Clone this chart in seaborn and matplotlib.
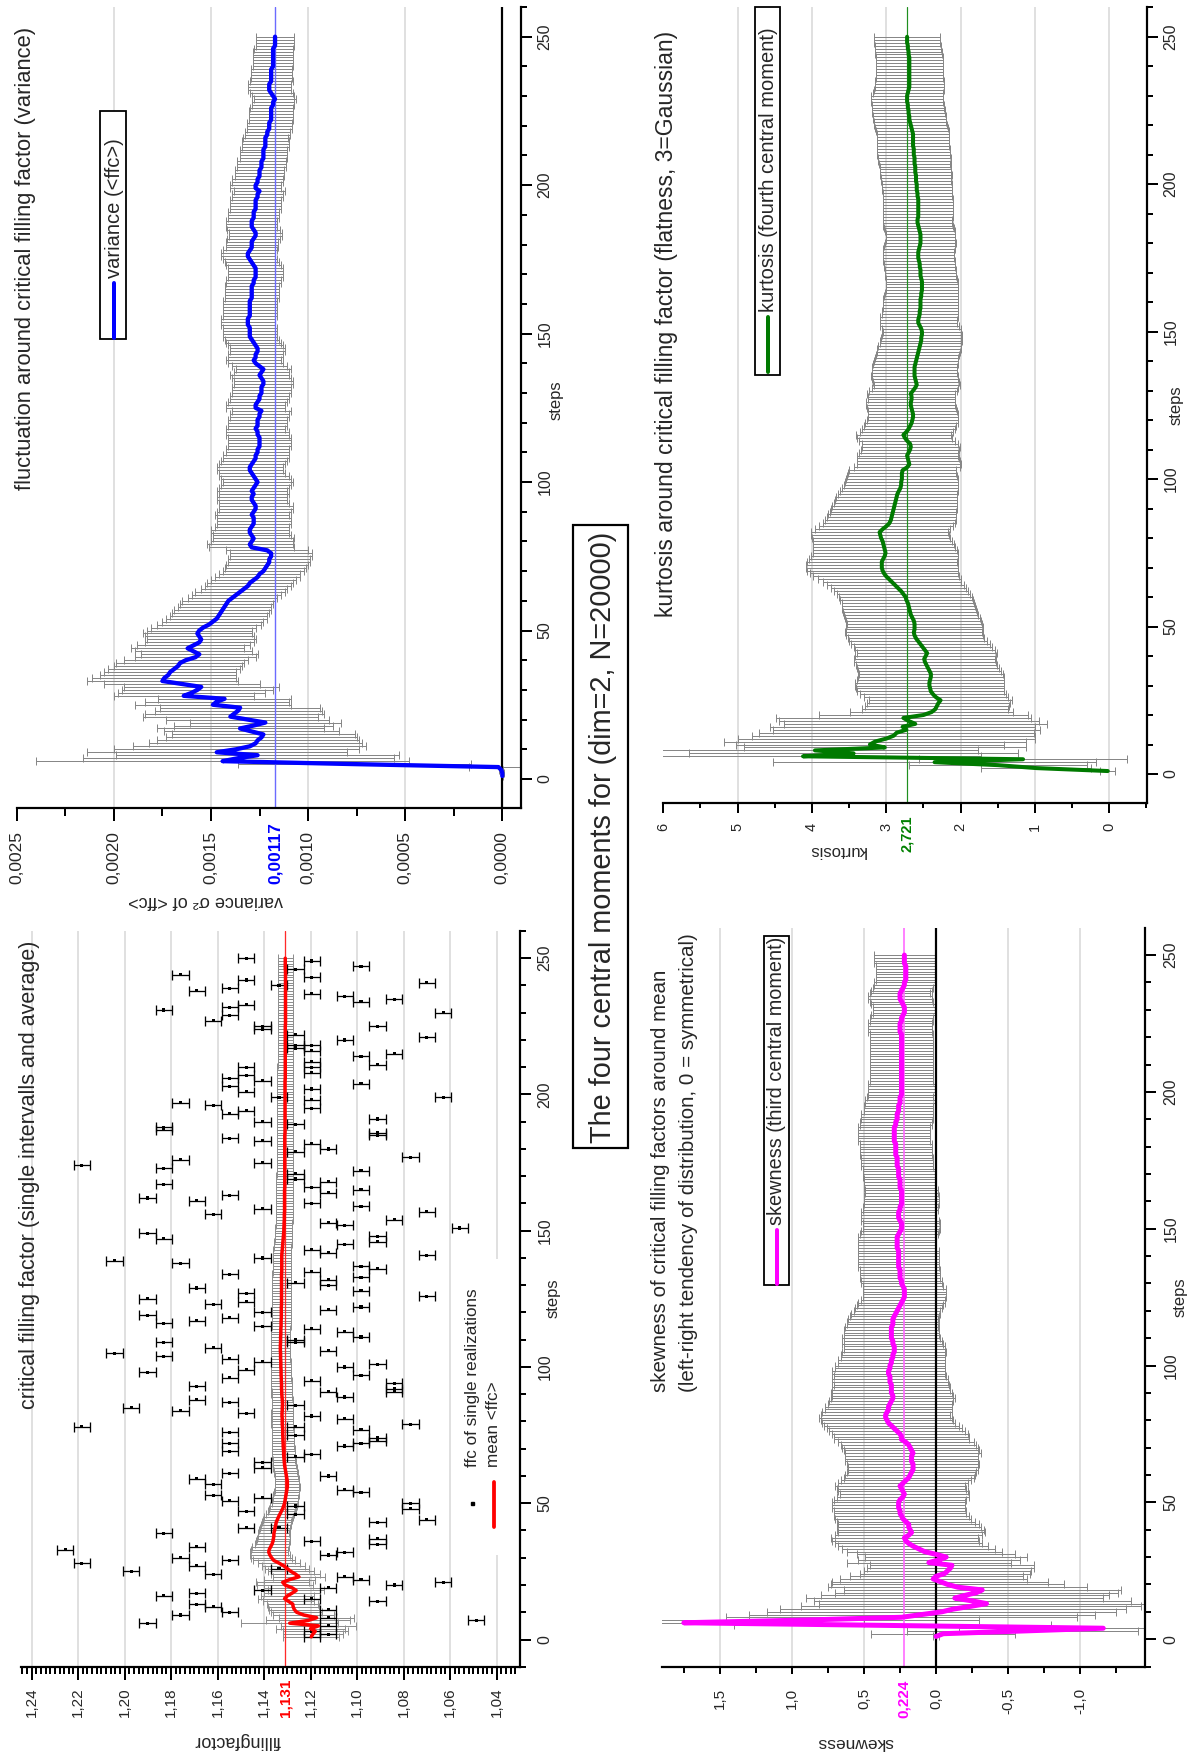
import numpy as np
import pandas as pd
import matplotlib
matplotlib.use("Agg")
import matplotlib.pyplot as plt
import matplotlib.transforms as mtransforms
from matplotlib.lines import Line2D
from matplotlib.patches import Rectangle
from matplotlib.ticker import MultipleLocator
import seaborn as sns

# ---------------------------------------------------------------- data
steps = np.arange(1, 251)

# mean critical filling factor <ffc> and its error, per step
ff_mean = [
    1.1197, 1.1190, 1.1180, 1.1200, 1.1166, 1.1290, 1.1210, 1.1174, 1.1230, 1.1260,
    1.1270, 1.1275, 1.1277, 1.1295, 1.1312, 1.1300, 1.1280, 1.1262, 1.1280, 1.1310,
    1.1320, 1.1290, 1.1250, 1.1265, 1.1285, 1.1300, 1.1315, 1.1335, 1.1358, 1.1368,
    1.1375, 1.1380, 1.1378, 1.1372, 1.1366, 1.1362, 1.1360, 1.1358, 1.1358, 1.1355,
    1.1353, 1.1350, 1.1348, 1.1343, 1.1338, 1.1332, 1.1326, 1.1320, 1.1316, 1.1312,
    1.1310, 1.1308, 1.1306, 1.1304, 1.1302, 1.1300, 1.1300, 1.1300, 1.1302, 1.1304,
    1.1306, 1.1308, 1.1310, 1.1312, 1.1313, 1.1314, 1.1315, 1.1316, 1.1316, 1.1317,
    1.1318, 1.1318, 1.1319, 1.1319, 1.1320, 1.1320, 1.1320, 1.1321, 1.1322, 1.1322,
    1.1322, 1.1323, 1.1323, 1.1322, 1.1322, 1.1321, 1.1321, 1.1322, 1.1323, 1.1324,
    1.1324, 1.1325, 1.1325, 1.1325, 1.1326, 1.1326, 1.1327, 1.1327, 1.1327, 1.1328,
    1.1328, 1.1328, 1.1329, 1.1329, 1.1329, 1.1330, 1.1330, 1.1330, 1.1329, 1.1329,
    1.1329, 1.1328, 1.1328, 1.1328, 1.1327, 1.1327, 1.1327, 1.1326, 1.1326, 1.1326,
    1.1326, 1.1326, 1.1325, 1.1325, 1.1325, 1.1325, 1.1325, 1.1325, 1.1325, 1.1325,
    1.1325, 1.1325, 1.1325, 1.1325, 1.1324, 1.1324, 1.1324, 1.1324, 1.1324, 1.1324,
    1.1324, 1.1323, 1.1322, 1.1321, 1.1320, 1.1319, 1.1318, 1.1317, 1.1316, 1.1315,
    1.1315, 1.1314, 1.1314, 1.1313, 1.1313, 1.1313, 1.1312, 1.1312, 1.1312, 1.1312,
    1.1312, 1.1312, 1.1312, 1.1312, 1.1312, 1.1311, 1.1311, 1.1311, 1.1311, 1.1311,
    1.1311, 1.1311, 1.1311, 1.1311, 1.1311, 1.1311, 1.1311, 1.1311, 1.1311, 1.1311,
    1.1311, 1.1311, 1.1311, 1.1311, 1.1311, 1.1310, 1.1310, 1.1310, 1.1310, 1.1310,
    1.1310, 1.1310, 1.1310, 1.1310, 1.1310, 1.1310, 1.1310, 1.1310, 1.1310, 1.1310,
    1.1310, 1.1310, 1.1310, 1.1310, 1.1310, 1.1309, 1.1309, 1.1309, 1.1309, 1.1309,
    1.1309, 1.1309, 1.1309, 1.1309, 1.1309, 1.1309, 1.1309, 1.1309, 1.1309, 1.1309,
    1.1309, 1.1309, 1.1309, 1.1309, 1.1309, 1.1308, 1.1308, 1.1308, 1.1308, 1.1308,
    1.1308, 1.1308, 1.1308, 1.1308, 1.1308, 1.1308, 1.1308, 1.1308, 1.1308, 1.1308,
    1.1308, 1.1308, 1.1308, 1.1308, 1.1308, 1.1309, 1.1309, 1.1309, 1.1309, 1.1309,
]
ff_err = [
    0.012, 0.013, 0.014, 0.015, 0.016, 0.021, 0.018, 0.016, 0.013, 0.011,
    0.011, 0.011, 0.011, 0.011, 0.0115, 0.0115, 0.012, 0.012, 0.012, 0.012,
    0.0115, 0.011, 0.011, 0.0105, 0.010, 0.0095, 0.0092, 0.009, 0.009, 0.0088,
    0.0085, 0.0082, 0.008, 0.0078, 0.0075, 0.0072, 0.007, 0.0068, 0.0067, 0.0066,
    0.0065, 0.0064, 0.0063, 0.0062, 0.0061, 0.006, 0.0059, 0.0058, 0.0057, 0.0056,
    0.0055, 0.0055, 0.0054, 0.0054, 0.0053, 0.0053, 0.0052, 0.0052, 0.0051, 0.0051,
    0.0050, 0.0050, 0.0050, 0.0050, 0.0050, 0.0049, 0.0049, 0.0049, 0.0049, 0.0049,
    0.0048, 0.0048, 0.0048, 0.0048, 0.0048, 0.0047, 0.0047, 0.0047, 0.0047, 0.0047,
    0.0046, 0.0046, 0.0046, 0.0046, 0.0046, 0.0045, 0.0045, 0.0045, 0.0045, 0.0045,
    0.0044, 0.0044, 0.0044, 0.0044, 0.0044, 0.0043, 0.0043, 0.0043, 0.0043, 0.0043,
    0.0042, 0.0042, 0.0042, 0.0042, 0.0042, 0.0042, 0.0042, 0.0042, 0.0042, 0.0042,
    0.0041, 0.0041, 0.0041, 0.0041, 0.0041, 0.0041, 0.0041, 0.0041, 0.0041, 0.0041,
    0.0040, 0.0040, 0.0040, 0.0040, 0.0040, 0.0040, 0.0040, 0.0040, 0.0040, 0.0040,
    0.0039, 0.0039, 0.0039, 0.0039, 0.0039, 0.0039, 0.0039, 0.0039, 0.0039, 0.0039,
    0.0038, 0.0038, 0.0038, 0.0038, 0.0038, 0.0037, 0.0037, 0.0037, 0.0037, 0.0037,
    0.0036, 0.0036, 0.0036, 0.0036, 0.0036, 0.0036, 0.0036, 0.0036, 0.0036, 0.0036,
    0.0036, 0.0036, 0.0036, 0.0036, 0.0036, 0.0036, 0.0036, 0.0036, 0.0036, 0.0036,
    0.0035, 0.0035, 0.0035, 0.0035, 0.0035, 0.0035, 0.0035, 0.0035, 0.0035, 0.0035,
    0.0035, 0.0035, 0.0035, 0.0035, 0.0035, 0.0035, 0.0035, 0.0035, 0.0035, 0.0035,
    0.0034, 0.0034, 0.0034, 0.0034, 0.0034, 0.0034, 0.0034, 0.0034, 0.0034, 0.0034,
    0.0034, 0.0034, 0.0034, 0.0034, 0.0034, 0.0034, 0.0034, 0.0034, 0.0034, 0.0034,
    0.0033, 0.0033, 0.0033, 0.0033, 0.0033, 0.0033, 0.0033, 0.0033, 0.0033, 0.0033,
    0.0033, 0.0033, 0.0033, 0.0033, 0.0033, 0.0033, 0.0033, 0.0033, 0.0033, 0.0033,
    0.0032, 0.0032, 0.0032, 0.0032, 0.0032, 0.0032, 0.0032, 0.0032, 0.0032, 0.0032,
    0.0032, 0.0032, 0.0032, 0.0032, 0.0032, 0.0032, 0.0032, 0.0032, 0.0032, 0.0032,
]
ff_avg = 1.131

# ffc of single realizations: (step, value), each with a fixed error half-width
ff_single_step = [
    249, 247, 246, 243, 241, 240, 237, 236, 235, 234, 230, 225, 224, 225, 222, 221,
    220, 218, 218, 217, 216, 215, 214, 212, 211, 210, 208, 205, 204, 202, 199, 199,
    198, 195, 191, 190, 189, 186, 185, 183, 182, 180, 179, 177, 175, 172, 171, 169,
    168, 166, 165, 164, 160, 159, 158, 157, 154, 153, 152, 151, 148, 146, 145, 143,
    142, 141, 140, 137, 136, 135, 133, 132, 131, 130, 128, 126, 122, 121, 120, 115,
    114, 113, 111, 110, 109, 106, 102, 101, 100, 97, 95, 94, 92, 91, 91, 89,
    86, 82, 81, 79, 78, 77, 75, 74, 73, 72, 71, 68,
    250, 244, 238, 239, 242, 231, 232, 229, 233, 227, 210, 207, 206, 203, 201, 197,
    196, 193, 194, 188, 187, 184, 174, 176, 173, 167, 162, 161, 163, 156, 149, 147,
    139, 138, 134, 129, 127, 124, 123, 125, 119, 117, 116, 118, 105, 109, 104, 107,
    103, 98, 99, 96, 93, 88, 84, 85, 87, 83, 78, 76, 72, 69,
    61, 57, 53, 51, 47, 41, 39, 34, 30, 29, 27, 24, 25, 33, 28, 16,
    17, 13, 12, 9, 10, 6, 18, 52, 59, 65, 63, 60, 55, 54, 49, 46,
    50, 48, 44, 43, 37, 35, 36, 32, 31, 22, 23, 20, 21, 19, 15, 14,
    11, 8, 5, 2, 3, 1, 7, 41, 26, 67,
]
ff_single_value = [
    1.1195, 1.0983, 1.1265, 1.1195, 1.0700, 1.1336, 1.1195, 1.1053, 1.0841, 1.0983, 1.0629, 1.1407, 1.1407, 1.0912, 1.1265, 1.0700,
    1.1053, 1.1265, 1.1195, 1.1265, 1.1195, 1.0841, 1.0983, 1.1195, 1.0912, 1.1195, 1.1195, 1.1407, 1.0983, 1.1195, 1.1336, 1.0629,
    1.1195, 1.1195, 1.0912, 1.1407, 1.1265, 1.0912, 1.0912, 1.1407, 1.1195, 1.1124, 1.1265, 1.0770, 1.1407, 1.0983, 1.1265, 1.1265,
    1.1124, 1.1195, 1.0983, 1.1124, 1.1195, 1.0983, 1.1407, 1.0700, 1.0841, 1.1124, 1.1053, 1.0558, 1.0912, 1.0912, 1.1053, 1.1195,
    1.1124, 1.0700, 1.1407, 1.0983, 1.0912, 1.1195, 1.0983, 1.1124, 1.1265, 1.1124, 1.0983, 1.0700, 1.0983, 1.1124, 1.1407, 1.1407,
    1.1195, 1.1053, 1.0983, 1.1265, 1.1265, 1.1124, 1.1407, 1.0912, 1.1053, 1.0983, 1.1195, 1.0841, 1.0841, 1.0841, 1.1124, 1.1053,
    1.1265, 1.1195, 1.1053, 1.0770, 1.1265, 1.0983, 1.1265, 1.0912, 1.0912, 1.0983, 1.1053, 1.1195,
    1.1477, 1.1760, 1.1690, 1.1548, 1.1477, 1.1831, 1.1548, 1.1548, 1.1477, 1.1619, 1.1477, 1.1477, 1.1548, 1.1548, 1.1477, 1.1760,
    1.1619, 1.1548, 1.1477, 1.1831, 1.1831, 1.1548, 1.2184, 1.1760, 1.1831, 1.1831, 1.1902, 1.1690, 1.1548, 1.1619, 1.1902, 1.1831,
    1.2043, 1.1760, 1.1548, 1.1690, 1.1477, 1.1477, 1.1619, 1.1902, 1.1902, 1.1690, 1.1831, 1.1548, 1.2043, 1.1831, 1.1831, 1.1619,
    1.1548, 1.1902, 1.1477, 1.1548, 1.1690, 1.1690, 1.1760, 1.1972, 1.1548, 1.1477, 1.2184, 1.1548, 1.1548, 1.1548,
    1.1548, 1.1619, 1.1619, 1.1548, 1.1477, 1.1477, 1.1831, 1.1690, 1.1760, 1.1548, 1.1690, 1.1619, 1.1972, 1.2255, 1.2184, 1.1831,
    1.1690, 1.1690, 1.1619, 1.1760, 1.1548, 1.1902, 1.1407, 1.1407, 1.1690, 1.1407, 1.1407, 1.1124, 1.1053, 1.0983, 1.1265, 1.1265,
    1.0770, 1.0770, 1.0700, 1.0912, 1.0912, 1.0912, 1.1195, 1.1053, 1.1124, 1.0983, 1.1053, 1.0841, 1.0629, 1.1124, 1.1195, 1.0912,
    1.1124, 1.1124, 1.1124, 1.1124, 1.1195, 1.1195, 1.0488, 1.1336, 1.1336, 1.1265,
]
ff_single_err = 0.0035

# variance of <ffc>, in units of 1e-5
var_mean_e5 = [
    0, 0, 0.5, 2, 76, 144, 136, 126, 147, 137,
    130, 127, 126, 124, 123, 129, 135, 128, 122, 131,
    140, 138, 136, 135, 149, 147, 143, 164, 160, 157,
    155, 165, 175, 174, 172, 171, 169, 167, 166, 163,
    158, 156, 159, 162, 159, 156, 155, 156, 157, 156,
    154, 151, 149, 147, 146, 145, 144, 143, 142, 141,
    139, 137, 135, 133, 131, 130, 128, 126, 125, 123,
    122, 121, 120, 120, 119, 119, 121, 129, 130, 129,
    128, 129, 130, 130, 129, 128, 128, 128, 129, 128,
    127, 127, 128, 129, 129, 128, 129, 128, 127, 126,
    127, 128, 129, 130, 130, 129, 128, 127, 127, 126,
    126, 125, 125, 125, 125, 126, 126, 127, 126, 126,
    126, 125, 125, 124, 127, 127, 126, 125, 125, 124,
    124, 124, 123, 123, 124, 125, 124, 123, 125, 127,
    128, 127, 127, 126, 126, 127, 128, 129, 130, 130,
    130, 130, 131, 131, 131, 130, 130, 130, 130, 130,
    130, 129, 129, 129, 129, 129, 128, 128, 127, 127,
    127, 127, 128, 129, 130, 131, 131, 130, 129, 129,
    129, 128, 127, 127, 128, 129, 129, 129, 128, 128,
    128, 127, 127, 127, 127, 126, 126, 125, 127, 127,
    126, 126, 125, 125, 125, 124, 124, 124, 123, 123,
    123, 123, 122, 122, 122, 122, 121, 121, 120, 120,
    120, 119, 119, 119, 119, 119, 118, 118, 117, 118,
    119, 120, 120, 120, 119, 119, 119, 119, 119, 118,
    118, 118, 118, 118, 118, 118, 117, 117, 117, 117,
]
var_err_e5 = [
    0.5, 0.8, 1, 15, 60, 96, 80, 73, 67, 63,
    60, 55, 52, 49, 47, 45, 43, 41, 39, 42,
    45, 46, 43, 41, 40, 37, 34, 36, 38, 39,
    40, 40, 39, 37, 35, 34, 34, 33, 33, 32,
    31, 30, 30, 29, 29, 28, 28, 28, 28, 27,
    27, 27, 26, 26, 25, 25, 25, 24, 24, 24,
    23, 23, 23, 22, 22, 22, 22, 22, 21, 21,
    21, 21, 21, 21, 21, 21, 21, 22, 22, 21,
    21, 20, 20, 20, 19, 19, 19, 19, 19, 19,
    19, 19, 18, 18, 18, 18, 18, 18, 18, 18,
    18, 18, 17, 17, 17, 17, 17, 17, 17, 16,
    16, 16, 16, 16, 16, 16, 16, 15, 15, 15,
    15, 15, 15, 15, 15, 15, 15, 15, 15, 15,
    15, 15, 15, 15, 15, 15, 14, 14, 14, 14,
    14, 14, 14, 14, 14, 14, 14, 14, 14, 14,
    14, 14, 14, 14, 14, 14, 14, 14, 14, 14,
    14, 14, 14, 14, 14, 14, 14, 14, 14, 14,
    14, 14, 14, 14, 14, 14, 14, 14, 13.5, 13.5,
    13.5, 13.5, 13.5, 13.5, 13.5, 13, 13, 13, 13, 13,
    13, 13, 13, 13, 13, 13, 13, 13, 13, 13,
    13, 13, 12.5, 12.5, 12.5, 12.5, 12.5, 12.5, 12, 12,
    12, 12, 12, 12, 12, 11.5, 11.5, 11.5, 11.5, 11.5,
    11.5, 11.5, 11.5, 11.5, 11.5, 11, 11, 11, 11, 11,
    11, 11, 11, 11, 11, 10.5, 10.5, 10.5, 10.5, 10.5,
    10.5, 10.5, 10.5, 10.5, 10.5, 10, 10, 10, 10, 10,
]
var_avg = 0.00117

# skewness (third central moment)
skew_mean = [
    0.00, -0.05, -0.60, -1.16, 0.30, 1.75, 0.90, 0.24, 0.10, -0.04,
    -0.12, -0.24, -0.35, -0.25, -0.13, -0.20, -0.28, -0.32, -0.15, -0.08,
    -0.03, 0.02, 0.00, -0.06, -0.08, -0.10, -0.11, 0.05, -0.02, -0.07,
    0.00, 0.08, 0.12, 0.16, 0.19, 0.21, 0.22, 0.19, 0.17, 0.18,
    0.19, 0.19, 0.21, 0.23, 0.24, 0.25, 0.25, 0.26, 0.26, 0.26,
    0.25, 0.23, 0.22, 0.23, 0.24, 0.25, 0.23, 0.21, 0.19, 0.18,
    0.17, 0.16, 0.16, 0.16, 0.17, 0.17, 0.17, 0.16, 0.17, 0.18,
    0.19, 0.21, 0.24, 0.24, 0.25, 0.27, 0.29, 0.31, 0.33, 0.34,
    0.35, 0.35, 0.34, 0.33, 0.33, 0.32, 0.31, 0.30, 0.30, 0.31,
    0.31, 0.31, 0.31, 0.32, 0.32, 0.32, 0.33, 0.33, 0.32, 0.32,
    0.31, 0.31, 0.30, 0.30, 0.29, 0.29, 0.29, 0.30, 0.30, 0.31,
    0.31, 0.31, 0.31, 0.31, 0.30, 0.30, 0.30, 0.29, 0.28, 0.27,
    0.26, 0.25, 0.24, 0.23, 0.22, 0.22, 0.22, 0.22, 0.23, 0.24,
    0.24, 0.25, 0.25, 0.25, 0.25, 0.26, 0.26, 0.26, 0.26, 0.26,
    0.26, 0.26, 0.27, 0.27, 0.27, 0.27, 0.27, 0.26, 0.25, 0.24,
    0.24, 0.24, 0.25, 0.26, 0.26, 0.26, 0.25, 0.25, 0.24, 0.24,
    0.24, 0.24, 0.24, 0.24, 0.25, 0.25, 0.25, 0.25, 0.26, 0.26,
    0.26, 0.26, 0.27, 0.27, 0.27, 0.27, 0.28, 0.28, 0.28, 0.28,
    0.28, 0.29, 0.29, 0.29, 0.29, 0.29, 0.29, 0.28, 0.28, 0.27,
    0.27, 0.27, 0.26, 0.26, 0.26, 0.25, 0.25, 0.25, 0.24, 0.24,
    0.24, 0.24, 0.24, 0.24, 0.24, 0.24, 0.24, 0.24, 0.24, 0.24,
    0.24, 0.24, 0.24, 0.24, 0.24, 0.24, 0.24, 0.24, 0.24, 0.24,
    0.24, 0.25, 0.25, 0.25, 0.25, 0.24, 0.24, 0.23, 0.22, 0.22,
    0.22, 0.23, 0.24, 0.25, 0.25, 0.25, 0.24, 0.23, 0.22, 0.22,
    0.21, 0.21, 0.21, 0.21, 0.21, 0.21, 0.22, 0.22, 0.22, 0.22,
]
skew_err = [
    0.02, 0.50, 0.80, 1.00, 1.10, 1.25, 1.20, 1.22, 1.20, 1.21,
    1.20, 1.18, 1.16, 1.10, 1.03, 1.00, 0.98, 0.96, 0.90, 0.81,
    0.75, 0.65, 0.60, 0.59, 0.58, 0.58, 0.57, 0.57, 0.56, 0.56,
    0.55, 0.54, 0.53, 0.52, 0.51, 0.51, 0.51, 0.51, 0.51, 0.51,
    0.50, 0.49, 0.48, 0.47, 0.47, 0.46, 0.46, 0.46, 0.46, 0.46,
    0.46, 0.46, 0.45, 0.45, 0.45, 0.45, 0.45, 0.45, 0.45, 0.45,
    0.45, 0.45, 0.45, 0.46, 0.46, 0.46, 0.46, 0.47, 0.47, 0.47,
    0.47, 0.47, 0.47, 0.47, 0.47, 0.47, 0.47, 0.47, 0.46, 0.46,
    0.46, 0.45, 0.45, 0.44, 0.44, 0.43, 0.43, 0.43, 0.42, 0.42,
    0.41, 0.41, 0.40, 0.40, 0.40, 0.39, 0.39, 0.39, 0.38, 0.38,
    0.37, 0.37, 0.36, 0.36, 0.36, 0.35, 0.35, 0.35, 0.34, 0.34,
    0.33, 0.33, 0.33, 0.32, 0.32, 0.32, 0.31, 0.31, 0.31, 0.30,
    0.30, 0.30, 0.30, 0.29, 0.29, 0.29, 0.29, 0.29, 0.28, 0.28,
    0.28, 0.28, 0.28, 0.28, 0.28, 0.28, 0.28, 0.28, 0.28, 0.28,
    0.28, 0.28, 0.27, 0.27, 0.27, 0.27, 0.27, 0.27, 0.27, 0.27,
    0.27, 0.27, 0.27, 0.26, 0.26, 0.26, 0.26, 0.26, 0.26, 0.26,
    0.26, 0.26, 0.25, 0.25, 0.25, 0.25, 0.25, 0.25, 0.25, 0.25,
    0.25, 0.25, 0.25, 0.25, 0.25, 0.25, 0.25, 0.25, 0.25, 0.25,
    0.25, 0.25, 0.25, 0.25, 0.25, 0.25, 0.25, 0.25, 0.25, 0.25,
    0.25, 0.25, 0.24, 0.24, 0.24, 0.24, 0.24, 0.23, 0.23, 0.23,
    0.23, 0.23, 0.23, 0.22, 0.22, 0.22, 0.22, 0.22, 0.22, 0.22,
    0.22, 0.22, 0.22, 0.22, 0.22, 0.22, 0.22, 0.22, 0.22, 0.22,
    0.22, 0.22, 0.22, 0.22, 0.22, 0.22, 0.22, 0.22, 0.22, 0.22,
    0.22, 0.22, 0.22, 0.22, 0.22, 0.21, 0.21, 0.21, 0.21, 0.21,
    0.21, 0.21, 0.21, 0.21, 0.21, 0.21, 0.21, 0.21, 0.21, 0.21,
]
skew_avg = 0.224

# kurtosis (fourth central moment)
kurt_mean = [
    0.02, 0.98, 1.50, 2.35, 1.16, 4.12, 3.44, 3.96, 3.02, 3.22,
    3.15, 3.00, 2.90, 2.86, 2.73, 2.78, 2.61, 2.70, 2.77, 2.50,
    2.39, 2.34, 2.32, 2.30, 2.27, 2.33, 2.37, 2.40, 2.41, 2.42,
    2.42, 2.41, 2.40, 2.40, 2.42, 2.44, 2.46, 2.48, 2.49, 2.47,
    2.45, 2.48, 2.51, 2.54, 2.57, 2.60, 2.62, 2.63, 2.62, 2.62,
    2.62, 2.63, 2.65, 2.67, 2.68, 2.69, 2.70, 2.71, 2.73, 2.74,
    2.77, 2.80, 2.84, 2.88, 2.92, 2.96, 3.00, 3.03, 3.05, 3.06,
    3.06, 3.06, 3.04, 3.02, 3.01, 3.02, 3.03, 3.04, 3.05, 3.07,
    3.08, 3.09, 3.05, 3.00, 2.96, 2.94, 2.93, 2.92, 2.91, 2.90,
    2.89, 2.88, 2.87, 2.86, 2.85, 2.83, 2.81, 2.80, 2.80, 2.79,
    2.79, 2.79, 2.78, 2.72, 2.69, 2.70, 2.71, 2.72, 2.70, 2.68,
    2.67, 2.68, 2.72, 2.75, 2.77, 2.73, 2.70, 2.68, 2.66, 2.65,
    2.64, 2.64, 2.65, 2.66, 2.67, 2.67, 2.66, 2.66, 2.67, 2.64,
    2.61, 2.59, 2.60, 2.61, 2.62, 2.62, 2.62, 2.62, 2.61, 2.60,
    2.59, 2.58, 2.57, 2.56, 2.55, 2.54, 2.53, 2.53, 2.52, 2.52,
    2.53, 2.55, 2.57, 2.57, 2.56, 2.55, 2.55, 2.54, 2.54, 2.54,
    2.54, 2.53, 2.53, 2.52, 2.52, 2.52, 2.52, 2.53, 2.54, 2.54,
    2.54, 2.55, 2.55, 2.56, 2.57, 2.57, 2.57, 2.56, 2.55, 2.54,
    2.54, 2.54, 2.54, 2.55, 2.56, 2.57, 2.58, 2.58, 2.57, 2.57,
    2.57, 2.57, 2.57, 2.57, 2.57, 2.58, 2.58, 2.59, 2.59, 2.59,
    2.60, 2.60, 2.60, 2.61, 2.61, 2.61, 2.62, 2.62, 2.62, 2.63,
    2.63, 2.63, 2.64, 2.64, 2.64, 2.64, 2.64, 2.65, 2.66, 2.67,
    2.68, 2.69, 2.69, 2.70, 2.70, 2.71, 2.71, 2.72, 2.72, 2.72,
    2.71, 2.70, 2.69, 2.69, 2.69, 2.69, 2.69, 2.69, 2.69, 2.69,
    2.69, 2.69, 2.69, 2.70, 2.70, 2.71, 2.71, 2.72, 2.72, 2.72,
]
kurt_err = [
    0.10, 0.74, 1.20, 2.17, 1.40, 2.39, 2.21, 2.20, 1.90, 1.80,
    2.03, 2.00, 1.90, 1.85, 1.80, 1.78, 1.77, 1.75, 1.72, 1.40,
    1.10, 0.98, 0.97, 0.96, 0.96, 0.97, 0.98, 0.99, 1.00, 1.00,
    1.00, 0.99, 0.98, 0.97, 0.96, 0.96, 0.95, 0.95, 0.95, 0.95,
    0.94, 0.94, 0.93, 0.93, 0.93, 0.92, 0.92, 0.92, 0.92, 0.92,
    0.91, 0.91, 0.91, 0.90, 0.90, 0.90, 0.90, 0.89, 0.89, 0.89,
    0.89, 0.90, 0.91, 0.92, 0.93, 0.96, 0.98, 1.00, 1.02, 1.02,
    1.02, 1.01, 1.00, 0.99, 0.98, 0.97, 0.96, 0.95, 0.94, 0.93,
    0.93, 0.92, 0.91, 0.90, 0.89, 0.88, 0.87, 0.86, 0.85, 0.85,
    0.84, 0.83, 0.82, 0.81, 0.80, 0.79, 0.78, 0.77, 0.76, 0.75,
    0.74, 0.73, 0.72, 0.71, 0.70, 0.69, 0.69, 0.68, 0.67, 0.66,
    0.66, 0.65, 0.65, 0.64, 0.64, 0.63, 0.63, 0.62, 0.62, 0.61,
    0.61, 0.61, 0.60, 0.60, 0.60, 0.60, 0.59, 0.59, 0.59, 0.59,
    0.58, 0.58, 0.58, 0.58, 0.58, 0.57, 0.57, 0.57, 0.57, 0.57,
    0.56, 0.56, 0.56, 0.56, 0.56, 0.55, 0.55, 0.54, 0.54, 0.53,
    0.53, 0.53, 0.52, 0.52, 0.52, 0.51, 0.51, 0.51, 0.50, 0.50,
    0.50, 0.50, 0.49, 0.49, 0.49, 0.49, 0.48, 0.48, 0.48, 0.48,
    0.48, 0.48, 0.48, 0.48, 0.48, 0.48, 0.48, 0.48, 0.48, 0.48,
    0.47, 0.47, 0.47, 0.47, 0.47, 0.47, 0.47, 0.47, 0.47, 0.47,
    0.47, 0.47, 0.47, 0.47, 0.47, 0.47, 0.47, 0.47, 0.47, 0.47,
    0.47, 0.47, 0.48, 0.48, 0.48, 0.48, 0.48, 0.49, 0.49, 0.49,
    0.49, 0.49, 0.49, 0.49, 0.49, 0.49, 0.49, 0.49, 0.49, 0.49,
    0.49, 0.49, 0.49, 0.49, 0.49, 0.48, 0.48, 0.48, 0.48, 0.48,
    0.47, 0.47, 0.46, 0.46, 0.46, 0.45, 0.45, 0.45, 0.45, 0.45,
    0.45, 0.45, 0.45, 0.45, 0.45, 0.44, 0.44, 0.44, 0.44, 0.44,
]
kurt_avg = 2.721

var_mean = np.array(var_mean_e5) * 1e-5
var_err = np.array(var_err_e5) * 1e-5

# ---------------------------------------------------------------- style
sns.set_theme(style="white")
plt.rcParams["font.family"] = ["Liberation Sans", "DejaVu Sans"]
plt.rcParams["axes.unicode_minus"] = False

W, H, DPI = 1194, 1755, 100
PT = 72 / DPI                      # points per pixel
GRAY = "#878787"
GRID = "#d6d6d6"

fig = plt.figure(figsize=(W / DPI, H / DPI), dpi=DPI, facecolor="white")


def fx(px):
    return px / W


def fy(py):
    return 1 - py / H


def comma(v, nd):
    s = f"{v:.{nd}f}"
    if s.startswith("-") and float(s) == 0:
        s = s[1:]
    return s.replace(".", ",")


def make_axes(left, top, right, bottom, xlim, ylim, major, minor, major_len, minor_len):
    ax = fig.add_axes([fx(left), fy(bottom), (right - left) / W, (bottom - top) / H])
    ax.set_facecolor("none")
    for side in ("top", "left"):
        ax.spines[side].set_visible(False)
    for side in ("bottom", "right"):
        ax.spines[side].set_visible(True)
        ax.spines[side].set_color("black")
        ax.spines[side].set_linewidth(2.2 * PT)
        ax.spines[side].set_zorder(6)
    ax.xaxis.set_major_locator(MultipleLocator(major))
    ax.xaxis.set_minor_locator(MultipleLocator(minor))
    ax.tick_params(axis="x", which="major", bottom=True, top=False, direction="out",
                   length=major_len * PT, width=2 * PT, color="black", labelbottom=False)
    ax.tick_params(axis="x", which="minor", bottom=True, top=False, direction="out",
                   length=minor_len * PT, width=2 * PT, color="black")
    ax.yaxis.set_ticks_position("right")
    ax.yaxis.set_major_locator(MultipleLocator(50))
    ax.yaxis.set_minor_locator(MultipleLocator(10))
    ax.tick_params(axis="y", which="major", right=True, left=False, direction="out",
                   length=11 * PT, width=2 * PT, color="black", labelright=False, labelleft=False)
    ax.tick_params(axis="y", which="minor", right=True, left=False, direction="out",
                   length=6 * PT, width=2 * PT, color="black")
    ax.grid(False)
    ax._limits = (xlim, ylim)
    return ax


def finish_axes(ax):
    xlim, ylim = ax._limits
    ax.set_xlim(*xlim)
    ax.set_ylim(*ylim)
    ax.set_xlabel("")
    ax.set_ylabel("")


def gridlines(ax, values):
    for v in values:
        ax.axvline(v, color=GRID, lw=1.5 * PT, zorder=0.5)


def value_labels(ax, values, nd, y_px, va, size, **kw):
    tr = mtransforms.blended_transform_factory(ax.transData, fig.transFigure)
    for v in values:
        ax.text(v, fy(y_px), comma(v, nd), transform=tr, rotation=90, ha="center",
                va=va, fontsize=size, clip_on=False, **kw)


def step_labels(ax, x_px, size=11.5):
    tr = mtransforms.blended_transform_factory(fig.transFigure, ax.transData)
    for s in (0, 50, 100, 150, 200, 250):
        ax.text(fx(x_px), s, str(s), transform=tr, rotation=90, ha="left",
                va="center", fontsize=size, clip_on=False)


def ftext(x, y, s, rot=90, ha="center", va="bottom", size=12, **kw):
    fig.text(fx(x), fy(y), s, rotation=rot, ha=ha, va=va, fontsize=size, **kw)


def moment_curve(ax, mean, err, color, lw, capsize=2.9):
    ax.errorbar(mean, steps, xerr=err, fmt="none", ecolor=GRAY, elinewidth=1.0 * PT,
                capsize=capsize, capthick=1.0 * PT, zorder=2)
    df = pd.DataFrame({"value": mean, "step": steps})
    sns.lineplot(data=df, x="value", y="step", orient="y", sort=False, estimator=None,
                 color=color, lw=lw, ax=ax, zorder=4)


def framed_legend(left, top, right, bottom, color, hx, hy0, hy1, text, ty, tx, size):
    fig.add_artist(Rectangle((fx(left), fy(bottom)), (right - left) / W, (bottom - top) / H,
                             transform=fig.transFigure, facecolor="white",
                             edgecolor="black", lw=1.8 * PT, zorder=5))
    fig.add_artist(Line2D([fx(hx), fx(hx)], [fy(hy0), fy(hy1)], transform=fig.transFigure,
                          color=color, lw=4 * PT, solid_capstyle="round", zorder=6))
    fig.text(fx(tx), fy(ty), text, rotation=90, ha="center", va="bottom",
             fontsize=size, zorder=6)


# ------------------------------------------------ panel: filling factor
ax_ff = make_axes(21.4, 930.7, 519.6, 1667.3, (1.2444, 1.0301), (-10.2, 260.1),
                  0.02, 0.002, 12.7, 6.7)
gridlines(ax_ff, [1.24, 1.22, 1.20, 1.18, 1.16, 1.14, 1.12, 1.10, 1.08, 1.06, 1.04])
ax_ff.add_patch(Rectangle((fx(458), fy(1555)), 54 / W, (1555 - 1259) / H,
                          transform=fig.transFigure, facecolor="white", edgecolor="none",
                          zorder=1))
ax_ff.errorbar(ff_mean, steps, xerr=ff_err, fmt="none", ecolor="#8f8f8f",
               elinewidth=1.0 * PT, capsize=2.9, capthick=1.0 * PT, zorder=2)
ax_ff.errorbar(ff_single_value, ff_single_step, xerr=ff_single_err, fmt="none",
               ecolor="black", elinewidth=1.3 * PT, capsize=3.6, capthick=1.3 * PT, zorder=2.5)
sns.scatterplot(x=ff_single_value, y=ff_single_step, marker="s", s=5, color="black",
                edgecolor="none", linewidth=0, ax=ax_ff, zorder=2.6)
ax_ff.axvline(ff_avg, color="#ff2a2a", lw=1.3 * PT, zorder=3)
df_ff = pd.DataFrame({"value": ff_mean, "step": steps})
sns.lineplot(data=df_ff, x="value", y="step", orient="y", sort=False, estimator=None,
             color="#ff0000", lw=3.5 * PT, ax=ax_ff, zorder=4)
finish_axes(ax_ff)
value_labels(ax_ff, [1.24, 1.22, 1.20, 1.18, 1.16, 1.14, 1.12, 1.10, 1.08, 1.06, 1.04],
             2, 1717, "bottom", 11)
value_labels(ax_ff, [ff_avg], 3, 1717, "bottom", 11, color="#ff0000", fontweight="bold")
step_labels(ax_ff, 537.5)
# legend of the filling-factor panel
fig.add_artist(Line2D([fx(472)], [fy(1503)], transform=fig.transFigure, marker="s",
                      markersize=3 * PT, color="black", lw=0))
fig.add_artist(Line2D([fx(493.7), fx(493.7)], [fy(1482), fy(1527)], transform=fig.transFigure,
                      color="#ff0000", lw=3.8 * PT, solid_capstyle="round"))
ftext(472, 1467, "ffc of single realizations", size=12.3)
ftext(493.7, 1467, "mean <ffc>", size=12.3)
ftext(30, 1409, "critical filling factor (single intervalls and average)", size=15.5)
ftext(237, 1741, "fillingfactor", rot=180, va="center", size=13)
ftext(553, 1298, "steps", va="center", size=12)

# ------------------------------------------------------ panel: variance
ax_var = make_axes(16.7, 6.7, 521.4, 808.3, (0.0025, -0.0000983), (-9.88, 260.1),
                   0.0005, 0.00025, 13, 8)
gridlines(ax_var, [0.0020, 0.0015, 0.0010, 0.0005])
ax_var.axvline(0, color="black", lw=2.2 * PT, zorder=2.5)
ax_var.axvline(var_avg, color="#6b6bff", lw=1.4 * PT, zorder=3)
moment_curve(ax_var, var_mean, var_err, "#0000ff", 3.1)
finish_axes(ax_var)
value_labels(ax_var, [0.0025, 0.0020, 0.0015, 0.0010, 0.0005, 0.0000], 4, 884, "bottom", 12.5)
value_labels(ax_var, [var_avg], 5, 884, "bottom", 12.5, color="#0000ff", fontweight="bold")
step_labels(ax_var, 537.5)
framed_legend(100, 111, 126, 339, "#0000ff", 113.6, 338, 283, "variance (<ffc>)", 278, 115, 14.5)
ftext(26, 490, "fluctuation around critical filling factor (variance)", size=15.8)
ftext(206, 901, "variance σ² of <ffc>", rot=180, va="center", size=13)
ftext(556, 400, "steps", va="center", size=12)

# ------------------------------------------------------ panel: skewness
ax_sk = make_axes(662.1, 928, 1145.3, 1666.7, (1.901, -1.4517), (-10.06, 259.9),
                  0.5, 0.25, 7, 6)
gridlines(ax_sk, [1.5, 1.0, 0.5, -0.5, -1.0])
ax_sk.axvline(0, color="black", lw=2.2 * PT, zorder=2.5)
ax_sk.axvline(skew_avg, color="#ff66ff", lw=1.6 * PT, zorder=3)
moment_curve(ax_sk, skew_mean, skew_err, "#ff00ff", 3.6)
finish_axes(ax_sk)
value_labels(ax_sk, [1.5, 1.0, 0.5, 0.0, -0.5, -1.0], 1, 1688, "top", 11)
value_labels(ax_sk, [skew_avg], 3, 1680, "top", 11, color="#ff00ff", fontweight="bold")
step_labels(ax_sk, 1163.6)
framed_legend(763.9, 935.7, 788.7, 1285, "#ff00ff", 776.7, 1284, 1230,
              "skewness (third central moment)", 1225, 777, 14.3)
ftext(661, 1392, "skewness of critical filling factors around mean", size=14.8)
ftext(688, 1392, "(left-right tendency of distribution, 0 = symmetrical)", size=14.8)
ftext(855, 1742, "skewness", rot=180, va="center", size=12.5)
ftext(1180, 1297, "steps", va="center", size=12)

# ------------------------------------------------------ panel: kurtosis
ax_ku = make_axes(663.3, 6.7, 1147.1, 803.3, (6.0, -0.509), (-9.94, 260.2),
                  1, 0.5, 10, 5)
gridlines(ax_ku, [5, 4, 3, 2, 1, 0])
ax_ku.axvline(kurt_avg, color="#1f8f1f", lw=1.2 * PT, zorder=3)
moment_curve(ax_ku, kurt_mean, kurt_err, "#007a00", 2.9)
finish_axes(ax_ku)
value_labels(ax_ku, [6, 5, 4, 3, 2, 1, 0], 0, 823, "top", 10.5)
value_labels(ax_ku, [kurt_avg], 3, 815, "top", 10.5, color="#008000", fontweight="bold")
step_labels(ax_ku, 1163.6)
framed_legend(755.4, 7.3, 780, 375, "#007a00", 767.9, 372, 317,
              "kurtosis (fourth central moment)", 312, 768.5, 14.5)
ftext(666, 617, "kurtosis around critical filling factor (flatness, 3=Gaussian)", size=16.5)
ftext(837, 851, "kurtosis", rot=180, va="center", size=12)
ftext(1176, 405, "steps", va="center", size=12)

# ------------------------------------------------------ overall title
fig.add_artist(Rectangle((fx(573.3), fy(1148)), (628 - 573.3) / W, (1148 - 525) / H,
                         transform=fig.transFigure, facecolor="white", edgecolor="black",
                         lw=2.2 * PT, zorder=5))
fig.text(fx(603), fy(837), "The four central moments for (dim=2, N=20000)", rotation=90,
         ha="center", va="center", fontsize=20.8, zorder=6)

fig.savefig("out.png", dpi=DPI, facecolor="white")
